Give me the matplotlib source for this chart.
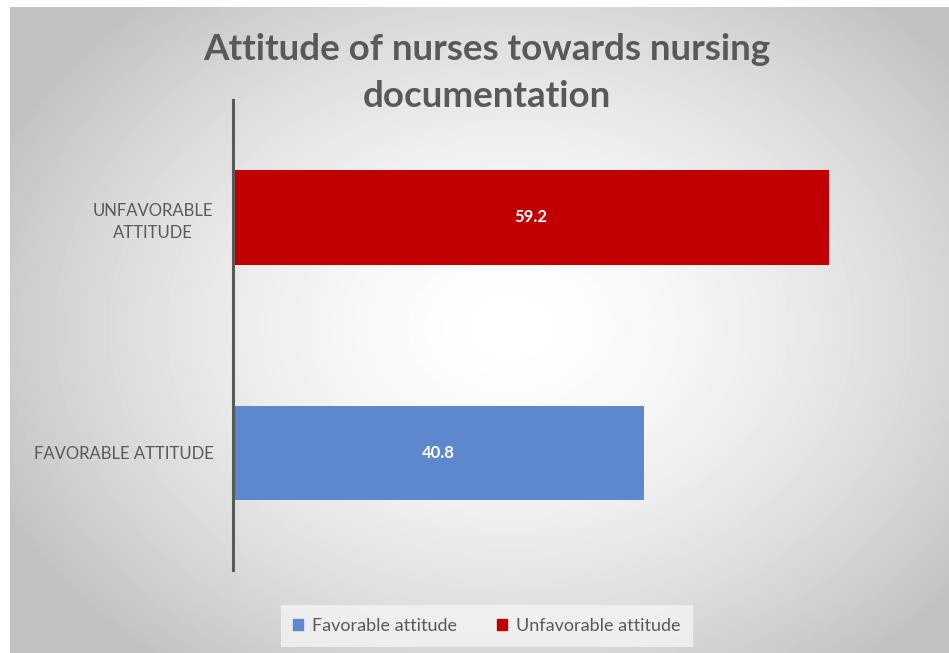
import numpy as np
import matplotlib.pyplot as plt
from matplotlib.patches import Patch

categories = ["FAVORABLE ATTITUDE", "UNFAVORABLE\nATTITUDE"]
values = [40.8, 59.2]
series_names = ["Favorable attitude", "Unfavorable attitude"]
colors = ["#5E88CE", "#C00000"]
title = "Attitude of nurses towards nursing\ndocumentation"

plt.rcParams['font.family'] = ['Lato', 'DejaVu Sans']

fig = plt.figure(figsize=(9.49, 6.53), dpi=100)
fig.patch.set_facecolor("white")

# radial gradient background (white centre, grey edges)
bg = fig.add_axes([10 / 949, 0, 939 / 949, 646 / 653], zorder=-5)
yy, xx = np.mgrid[0:646, 0:939]
r = np.sqrt(((xx - 500) / 560.0) ** 2 + ((yy - 320) / 430.0) ** 2)
shade = 1.0 - 0.24 * np.clip(r, 0, 1) ** 1.6
bg.imshow(shade, cmap="gray", vmin=0, vmax=1, aspect="auto", interpolation="bilinear")
bg.set_axis_off()

ax = fig.add_axes([233 / 949, 1 - 570 / 653, (930 - 233) / 949, 470 / 653])
ax.patch.set_alpha(0)
y = np.arange(len(categories))
bars = ax.barh(y, values, height=0.4, color=colors)
for b, v in zip(bars, values):
    ax.text(v / 2, b.get_y() + b.get_height() / 2, f"{v}", color="white",
            fontsize=12, fontweight="bold", ha="center", va="center")

ax.set_xlim(0, 69.2)
ax.set_ylim(-0.5, 1.5)
ax.set_yticks(y)
ax.set_yticklabels(categories, fontsize=12, color="#595959", ha="right",
                   multialignment="center", linespacing=1.45)
ax.tick_params(axis="y", length=0, pad=14)
ax.set_xticks([])
for s in ["top", "right", "bottom"]:
    ax.spines[s].set_visible(False)
ax.spines["left"].set_color("#595959")
ax.spines["left"].set_linewidth(2.2)

fig.text(487 / 949, 1 - 73 / 653, title, ha="center", va="center",
         fontsize=26.5, fontweight="bold", color="#595959", linespacing=1.55)

handles = [Patch(color=c, label=n) for c, n in zip(colors, series_names)]
leg = fig.legend(handles=handles, loc="center", bbox_to_anchor=(487 / 949, 1 - 626 / 653),
                 ncol=2, frameon=True, fontsize=13, handlelength=0.55, handleheight=0.55,
                 columnspacing=2.2, handletextpad=0.5, borderpad=0.7)
leg.get_frame().set_facecolor("#f4f4f4")
leg.get_frame().set_edgecolor("none")
leg.get_frame().set_boxstyle("square", pad=0)
for t in leg.get_texts():
    t.set_color("#595959")

fig.savefig("out.png", dpi=100)
